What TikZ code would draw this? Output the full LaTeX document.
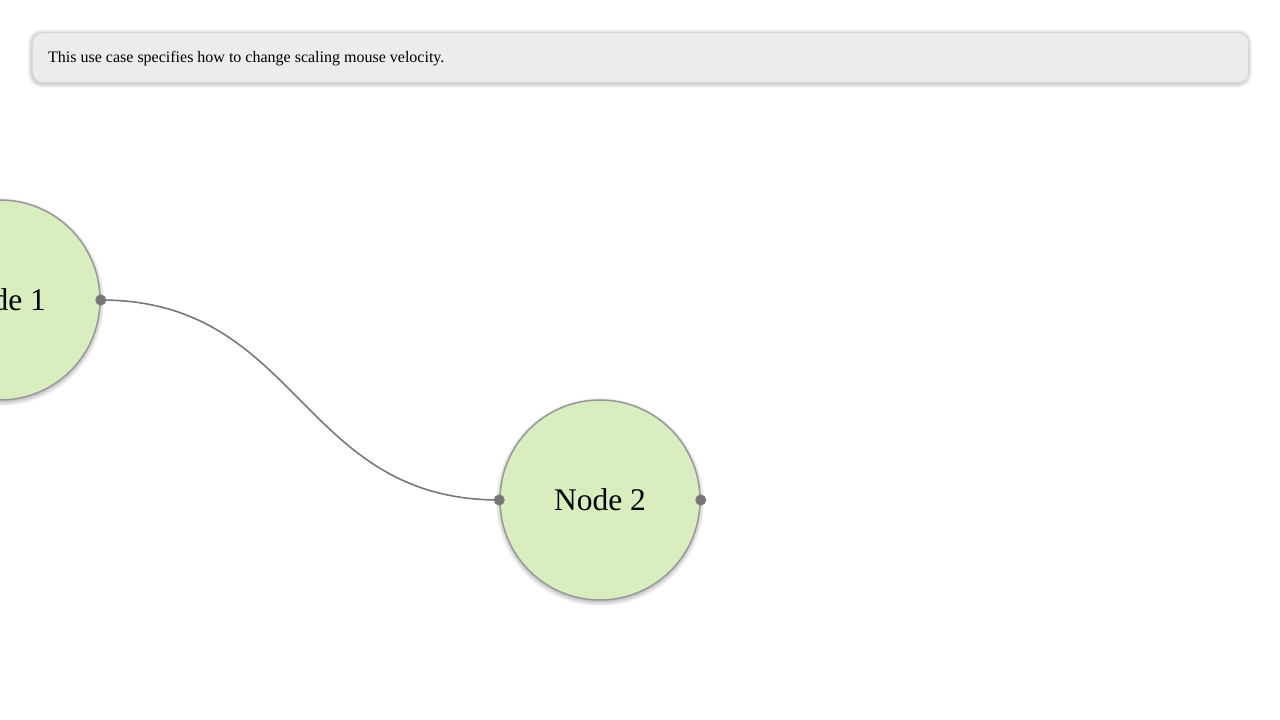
\documentclass[tikz,border=0pt]{standalone}
\usepackage{fontspec}
\setmainfont{Liberation Serif}
\definecolor{nodefill}{HTML}{D9EDBF}
\definecolor{nodeline}{HTML}{999999}
\definecolor{linkcol}{HTML}{777777}
\definecolor{boxfill}{HTML}{ECECEC}
\definecolor{boxline}{HTML}{D8D8D8}
\tikzset{
  usecase/.style={circle, minimum size=200pt, inner sep=0pt, fill=nodefill, draw=nodeline, line width=1.5pt,
    font=\fontsize{31.5}{36}\selectfont},
  note/.style={rounded corners=10pt, fill=boxfill, draw=boxline, line width=1.2pt},
  softshade/.style={fill=black, fill opacity=0.045},
  link/.style={draw=linkcol, line width=1.6pt},
  port/.style={fill=linkcol}
}
\begin{document}
\begin{tikzpicture}[x=1pt,y=-1pt]
\useasboundingbox (0,0) rectangle (1280,720);
\clip (0,0) rectangle (1280,720);
\fill[white] (0,0) rectangle (1280,720);
% soft shadows
\foreach \d in {0,1,2,3,4}{
  \fill[softshade, rounded corners=10pt+\d pt] (32-\d,33.5-\d) rectangle (1248+\d,83.5+\d);
  \fill[softshade] (0,302) circle (100+\d);
  \fill[softshade] (600,502) circle (100+\d);
}
\node[note, anchor=north west, minimum width=1216pt, minimum height=50pt, inner sep=0pt] (box) at (32,32) {};
\node[anchor=base west, inner sep=0pt, font=\fontsize{16}{19}\selectfont] (desc) at (48,62) {This use case specifies how to change scaling mouse velocity.};
\node[usecase] (n1) at (0,300) {Node 1};
\node[usecase] (n2) at (600,500) {Node 2};
\draw[link] (n1.east) .. controls +(200,0) and +(-200,0) .. (n2.west);
\fill[port] (n1.east) circle (5.5pt);
\fill[port] (n2.west) circle (5.5pt);
\fill[port] (n2.east) circle (5.5pt);
\end{tikzpicture}
\end{document}
